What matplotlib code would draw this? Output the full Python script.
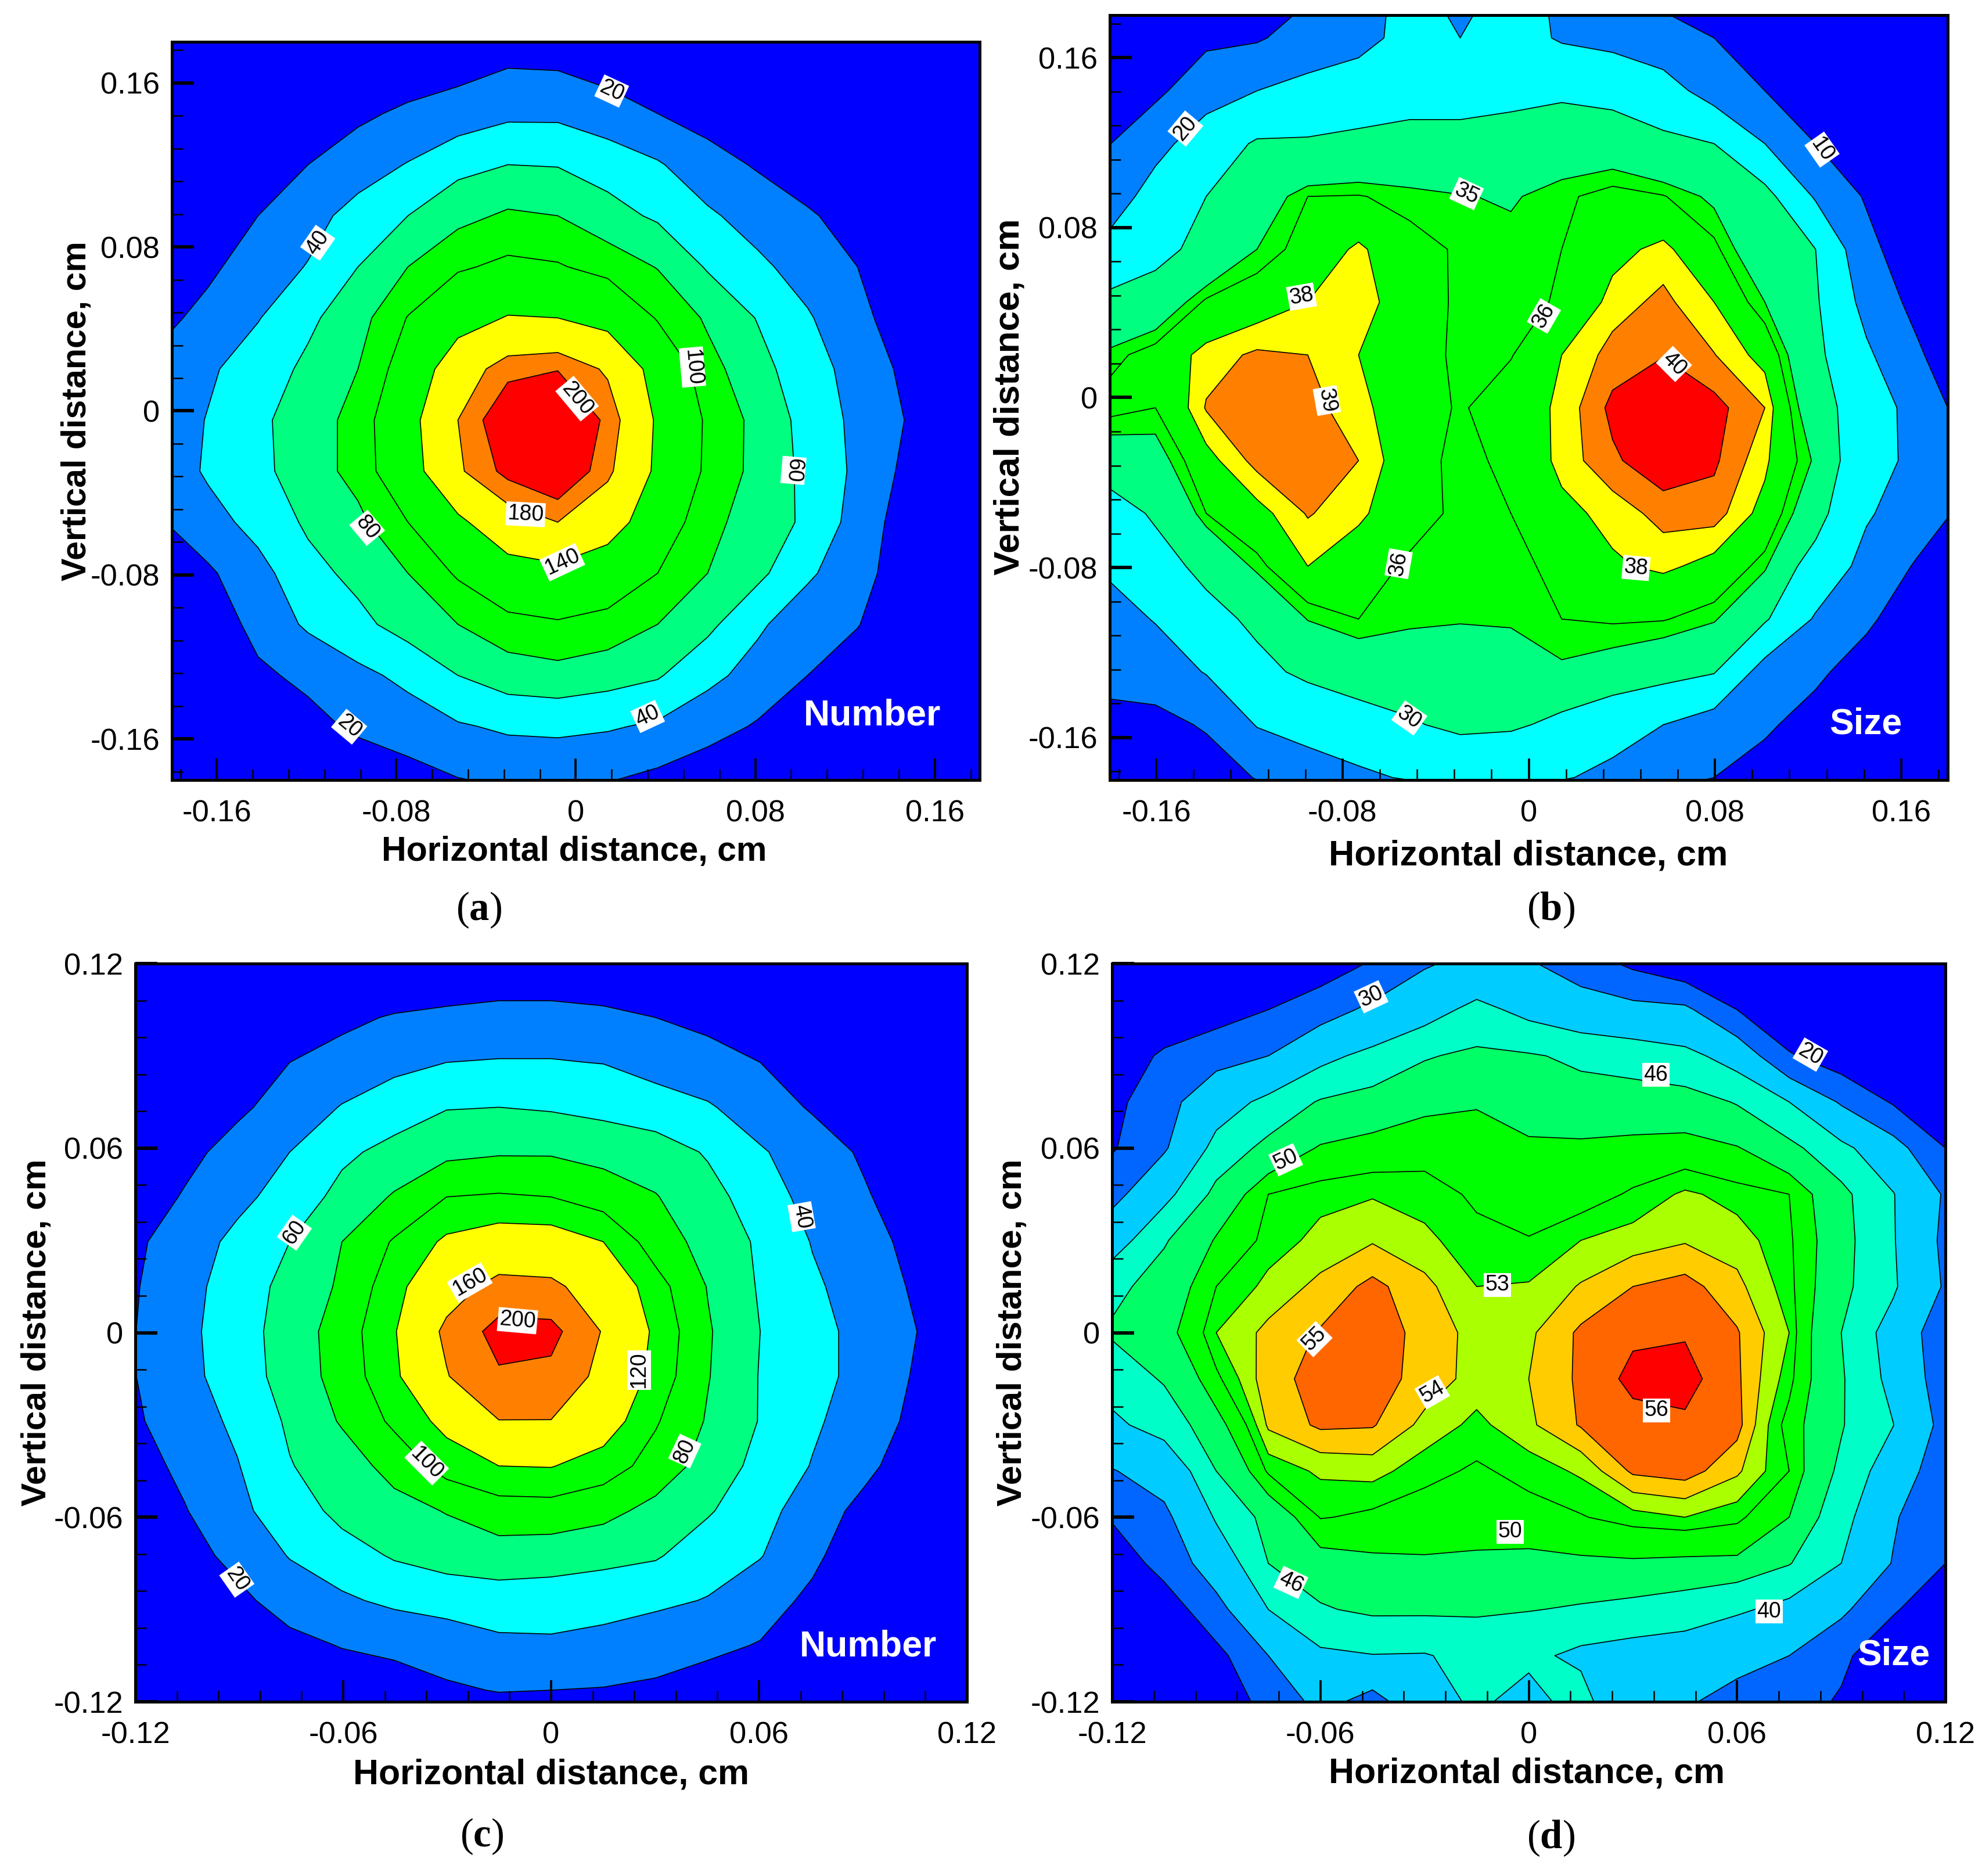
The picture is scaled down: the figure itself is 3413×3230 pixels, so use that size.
import numpy as np
import matplotlib
matplotlib.use("Agg")
import matplotlib.pyplot as plt

plt.rcParams['font.family'] = ['Liberation Sans', 'DejaVu Sans']
plt.rcParams['axes.unicode_minus'] = False
plt.rcParams['mathtext.fontset'] = 'custom'
plt.rcParams['mathtext.bf'] = 'Liberation Serif:bold'
plt.rcParams['mathtext.rm'] = 'Liberation Serif'

# GRIDS (cm)
a_x = np.linspace(-0.1861, 0.1923, 18)
a_y = np.linspace(0.1948, -0.2037, 17)
b_x = np.linspace(-0.1822, 0.1887, 18)
b_y = np.linspace(0.1941, -0.2037, 17)
c_x = np.linspace(-0.1207, 0.1207, 17)
c_y = np.linspace(0.1316, -0.1308, 19)
d_x = np.linspace(-0.12, 0.12, 17)
d_y = np.linspace(0.12, -0.12, 17)

# VALUES
a_z = [
    [0]*18,
    [0,0,0,0,0,6,12,18,17,12,7,3,0,0,0,0,0,0],
    [0,0,0,3,16,24,29,36,36,28,20,12,5,0,0,0,0,0],
    [0,0,8,20,31,41,54,60,59,52,42,28,18,6,0,0,0,0],
    [0,8,20,33,47,60,74,83,80,67,57,43,32,23,10,0,0,0],
    [5,16,30,41,60,80,97,105,102,92,79,58,44,32,20,5,0,0],
    [14,26,39,56,72,101,125,142,140,127,98,77,59,42,26,8,0,0],
    [25,37,50,64,80,113,163,193,199,176,125,87,67,48,33,15,0,0],
    [28,41,56,70,87,127,180,220,228,195,135,96,74,53,35,19,2,0],
    [25,43,55,70,87,123,176,207,225,186,133,95,74,55,36,15,0,0],
    [18,32,47,63,75,100,133,165,180,157,118,85,72,56,32,10,0,0],
    [5,17,33,54,65,80,103,125,130,118,100,80,65,43,28,8,0,0],
    [0,6,27,43,55,68,80,92,97,92,80,65,43,29,21,3,0,0],
    [0,0,16,25,35,45,60,70,73,68,62,45,33,20,8,0,0,0],
    [0,0,3,13,24,30,38,43,44,42,37,28,18,8,0,0,0,0],
    [0,0,0,0,5,13,20,25,26,22,16,8,2,0,0,0,0,0],
    [0]*18,
]

b_z = [
    [0,0,0,3,8,14,24,14,24,18,14,6,0,0,0,0,0,0],
    [0,3,8,9,14,17,23,20,24,19,17,14,10,4,0,0,0,0],
    [3,8,16,20,23,25,27,27,28,29,28,24,16,10,2,0,0,0],
    [9,17,25,31,31,32,32.5,32.5,33,33.5,33.5,32,30,20,10,3,0,0],
    [14,24,30,33.5,36,36.1,35.5,35.1,34.8,35.7,36.6,36.1,34.6,33,19,9,0,0],
    [22,28,32,35,36.8,38.3,36.6,35.8,35.5,36,37.5,38.4,36.4,33,30,13,3,0],
    [32,33,36.3,37.2,38,38.7,37,35.7,35.4,36.2,38.5,39.3,38,35,31,17,7,0],
    [35.3,36.8,38.5,39.2,39,38,36.5,35.8,35.9,38,39.4,39.95,39.05,37.5,32,21.5,11.5,1],
    [36.6,36,39.1,39.5,39.4,38.4,37,35.8,37,38.3,40.3,41,40.4,39,33,26,16,6],
    [33.5,34,37.5,39.4,39.8,39,37,35.4,36.5,38.4,39.8,40.8,40.2,38.3,34.7,25,17,9],
    [26,31,36,37.5,39.1,38.3,36.8,35.6,36,37.6,38.4,39.4,39.5,37.5,33,21,15,7.5],
    [21,27,32,35.5,38,37,35.7,35.4,35.5,36.5,37.8,38.3,37.5,35.4,27,17,9,1],
    [16,20.5,27.5,31.5,35.1,36,35.3,35.1,35.3,36,36.2,36.1,35.3,31,19,12,3,0],
    [13,15,20.5,28,31.5,33.3,33.7,34,33.5,34.7,34,33,30.5,16,12,5,0,0],
    [7,7,11,20.5,24,27,29.3,31.5,31,28.5,25,20,15.5,11.5,6,1,0,0],
    [0,0,5,10.5,14.5,18,21,23.5,23,21,17,13,10,6,1,0,0,0],
    [0]*18,
]

c_z = [
    [0]*17,
    [0,0,0,0,0,0,2,5,5,3,0,0,0,0,0,0,0],
    [0,0,0,0,15,22,26,29,29,26,20,15,8,0,0,0,0],
    [0,0,8,20,28,35,40,41,41,39.5,33,27,20,8,0,0,0],
    [0,7,16,29,41,50,59,60,58,54,48,42,30,18,5,0,0],
    [0,14,28,40,56,66,75,78,78,74,70,58,42,30,17,5,0],
    [7,22,35,48,66,82,100,102,100,90,81,67,50,33,22,8,0],
    [16,30,45,60,80,102,124,133,132,120,90,73,57,39,28,13,0],
    [18,33,50,66,83,112,145,170,167,142,108,79,58,43,31,17,0],
    [19,35,51,69,89,118,167,215,212,157,115,82,60,47,33,20,4],
    [19,34,50,68,88,115,158,195,190,148,112,81,59,48,32,18,2],
    [17,30,44,63,82,104,127,159,159,133,102,78,59,43,30,15,0],
    [11,25,39,59,70,87,108,120,121,110,92,72,54,39,25,8,0],
    [3,19,36,49,66,73,81,90,91,86,74,62,47,30,14,2,0],
    [0,12,26,41,51,62,69,72,70,66,62,49,41,24,7,0,0],
    [0,0,15,29,37,44,47,50,49,47,44,39,28,16,2,0,0],
    [0,0,3,14,21,24,30,36,37,34,28,24,19,6,0,0,0],
    [0,0,0,0,7,12,17,21,20,19,17,12,6,0,0,0,0],
    [0]*17,
]

d_z = [
    [0,2,5,8,14,21,29,33,31,25,18,12,5,0,0,0,0],
    [0,10,15,20,26,32,37,42,38,35,33,32,20,11,3,0,0],
    [12,22,27,30,38,42,45.6,47,46.5,45,44,42,37,21,14,8,2],
    [17,27,36,42,46.5,48,49.3,49.7,48.5,48,48,48,45.7,40,29,19,8],
    [19,29,42.5,47.5,50.3,51,51.5,51.5,50.5,50.5,50.8,51,50.2,47.5,42,34,20],
    [27,38,47.5,52,52.7,52.9,52.5,51.8,51,51.3,52.2,53.2,52.6,52,47.5,40.3,29],
    [36.5,45.6,50.3,52.5,53.3,53.9,53.3,52.3,52.1,53,53.5,53.9,53.5,52.3,48,40.5,28],
    [44.8,47.9,52,53.3,54.3,55.3,54.3,53,53.1,54.1,55,55.4,54.3,52.5,47.5,41,29],
    [46.6,49,53,54.3,55.1,55.5,54.7,53.6,53.8,55.2,55.8,55.9,55.1,53,46,37,24],
    [43,46.5,51.7,54.7,55.3,55.5,54.6,53.6,54,55.2,56.3,56.4,55.2,52.5,46.6,38,25],
    [38.5,43,49,54.2,55.2,55.1,53.7,52.7,53.8,55.1,55.6,55.8,55.4,51.4,46.4,40.1,27],
    [29.5,34,46,52.3,53.2,53.4,52.4,51.8,52.4,53.2,55.2,55.5,54.2,52,45,36,24],
    [21,28,40.8,47.8,52.1,51.7,51.3,51,51.5,51.9,52.6,53,52.4,50,43,31,22],
    [13,24,35,46,48.9,49.5,49.7,49.6,49.3,49.6,49.7,49.5,49.5,46.3,40,29.5,20],
    [4,14,27,40,45.5,47,47,46.8,46.2,45.5,44.7,43.5,41,38,32,21,13],
    [0,8,17,30,38.8,39.8,39.6,42,41.5,38.5,37,36,33,30,22,13,6],
    [0,0,14,23,33,26.6,36.9,41.2,37.5,43,31,31,27,24,19,10,3],
]

a_levels = [-1, 20, 40, 60, 80, 100, 140, 180, 200, 1000]
b_levels = [-1, 10, 20, 30, 35, 36, 38, 39, 40, 1000]
c_levels = [-1, 20, 40, 60, 80, 100, 120, 160, 200, 1000]
d_levels = [-1, 20, 30, 40, 46, 50, 52, 53, 54, 55, 56, 1000]

rainbow = ['#0000ff', '#0080ff', '#00ffff', '#00ff80', '#00ff00', '#00ff00',
           '#ffff00', '#ff8000', '#ff0000']
d_colors = ['#0000ff', '#0066ff', '#00ccff', '#00ffc8', '#00ff66', '#00ff00',
            '#00ff00', '#aaff00', '#ffcc00', '#ff6600', '#ff0000']

# contour labels: text, x, y, angle
a_labels = [("20", 0.016, 0.156, -25), ("20", -0.101, -0.154, -40), ("40", -0.115, 0.082, 55),
            ("40", 0.032, -0.149, 25), ("80", -0.093, -0.057, -50), ("100", 0.052, 0.0214, -85),
            ("60", 0.097, -0.029, -95), ("200", 0.0006, 0.006, -50), ("180", -0.0224, -0.0504, -3),
            ("140", -0.006, -0.0738, 25)]
b_labels = [("20", -0.1475, 0.1266, 50), ("10", 0.126, 0.1167, -55), ("35", -0.0267, 0.096, -25),
            ("38", -0.0976, 0.0475, 10), ("36", 0.0065, 0.0384, 60), ("39", -0.0867, -0.0014, -80),
            ("40", 0.0624, 0.0158, -45), ("36", -0.0559, -0.0782, 80), ("38", 0.0461, -0.0802, -5),
            ("30", -0.0513, -0.1508, -35)]
c_labels = [("60", -0.0741, 0.0325, 55), ("40", 0.0723, 0.0377, -80), ("160", -0.0235, 0.0163, 30),
            ("200", -0.0097, 0.0039, -5), ("120", 0.0254, -0.0122, 90), ("80", 0.0386, -0.0385, 65),
            ("100", -0.0359, -0.0424, -45), ("20", -0.0907, -0.0803, -55)]
d_labels = [("30", -0.0454, 0.1092, 25), ("20", 0.0811, 0.0904, -30), ("46", 0.0366, 0.0838, 0),
            ("50", -0.07, 0.0562, 25), ("53", -0.009, 0.0155, 0), ("55", -0.0617, -0.0021, 45),
            ("54", -0.0278, -0.0194, 30), ("56", 0.0368, -0.0253, 0), ("50", -0.0053, -0.0647, 0),
            ("46", -0.0685, -0.0812, -25), ("40", 0.0692, -0.0907, 0)]

ab_ticks = [-0.16, -0.08, 0, 0.08, 0.16]
ab_ticklabels = ['-0.16', '-0.08', '0', '0.08', '0.16']
cd_ticks = [-0.12, -0.06, 0, 0.06, 0.12]
cd_ticklabels = ['-0.12', '-0.06', '0', '0.06', '0.12']

W, H = 3413, 3230
fig = plt.figure(figsize=(W/300, H/300), dpi=300)


def draw_panel(box, x, y, z, levels, colors, labels, lim, ticks, ticklabels, minor,
               name, name_pos, tag, tag_pos, xlab_pos, ylab_pos, xlab_size, ylab_size):
    left, right, top, bottom = box
    ax = fig.add_axes([left/W, 1 - bottom/H, (right-left)/W, (bottom-top)/H])
    z = np.array(z, dtype=float)
    ax.contourf(x, y, z, levels=levels, colors=colors)
    ax.contour(x, y, z, levels=levels[1:-1], colors='black', linewidths=0.4)
    ax.set_xlim(-lim, lim)
    ax.set_ylim(-lim, lim)

    ax.set_xticks(ticks)
    ax.set_xticklabels(ticklabels)
    ax.set_yticks(ticks)
    ax.set_yticklabels(ticklabels)
    minors = minor*np.arange(-20, 21)
    minors = minors[np.abs(minors) <= lim]
    ax.set_xticks(minors, minor=True)
    ax.set_yticks(minors, minor=True)
    ax.tick_params(which='major', direction='in', length=9, width=0.9, labelsize=12.6)
    ax.tick_params(axis='x', which='major', pad=8)
    ax.tick_params(axis='y', which='major', width=1.4, pad=5)
    ax.tick_params(which='minor', direction='in', length=4.5, width=0.6)
    for s in ax.spines.values():
        s.set_linewidth(1.2)

    for txt, lx, ly, ang in labels:
        ax.text(lx, ly, txt, fontsize=9, rotation=ang, ha='center', va='center',
                rotation_mode='anchor', color='black', zorder=5,
                bbox=dict(facecolor='white', edgecolor='none', pad=0.6))

    ax.text(name_pos[0], name_pos[1], name, transform=ax.transAxes, color='white',
            fontsize=15, fontweight='bold', ha='center', va='center')

    ax.set_xlabel("Horizontal distance, cm", fontsize=xlab_size, fontweight='bold')
    ax.set_ylabel("Vertical distance, cm", fontsize=ylab_size, fontweight='bold')
    ax.xaxis.set_label_coords(xlab_pos[0]/1568, 1 - (xlab_pos[1]+2)/1484, transform=fig.transFigure)
    ax.yaxis.set_label_coords((ylab_pos[0]+1)/1568, 1 - ylab_pos[1]/1484, transform=fig.transFigure)
    ax.xaxis.label.set_va('center')
    ax.yaxis.label.set_va('center')

    fig.text(tag_pos[0]/1568, 1 - (tag_pos[1]+2)/1484, '(' + r'$\mathbf{' + tag + '}$' + ')',
             family='Liberation Serif', fontsize=16.5, ha='center', va='center')
    return ax


draw_panel((296, 1687, 72, 1343), a_x, a_y, a_z, a_levels, rainbow, a_labels, 0.18,
           ab_ticks, ab_ticklabels, 0.016,
           "Number", (0.867, 0.087), 'a', (379, 718), (454, 672), (60, 325), 14.2, 14.2)
draw_panel((1911, 3354, 26, 1343), b_x, b_y, b_z, b_levels, rainbow, b_labels, 0.18,
           ab_ticks, ab_ticklabels, 0.016,
           "Size", (0.902, 0.073), 'b', (1227, 718), (1209, 675), (798, 314), 14.7, 14.9)
draw_panel((233, 1665, 1659, 2930), c_x, c_y, c_z, c_levels, rainbow, c_labels, 0.12,
           cd_ticks, cd_ticklabels, 0.012,
           "Number", (0.881, 0.075), 'c', (381, 1451), (436, 1402), (28, 1054), 14.6, 14.5)
draw_panel((1915, 3350, 1659, 2930), d_x, d_y, d_z, d_levels, d_colors, d_labels, 0.12,
           cd_ticks, cd_ticklabels, 0.012,
           "Size", (0.938, 0.063), 'd', (1227, 1452), (1208, 1401), (800, 1054), 14.6, 14.5)

fig.savefig("out.png", dpi=300)
